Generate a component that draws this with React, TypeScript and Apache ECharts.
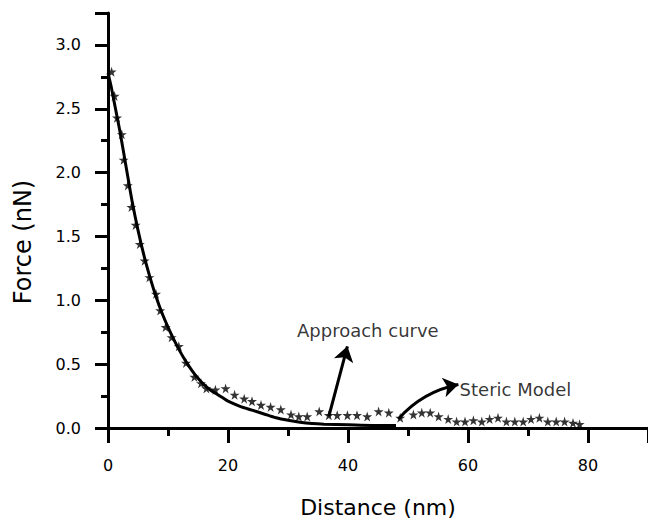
import React, { useEffect, useRef } from "react";
import * as echarts from "echarts";

// Approach curve (stars): distance (nm) and force (nN)
const approachX = [0.6, 1.1, 1.5, 2.3, 2.6, 3.3, 3.9, 4.6, 5.3, 6.1, 6.9, 8.0, 8.7, 9.6, 10.6, 11.8, 13.0, 14.4, 15.5, 16.4, 17.9, 19.6, 21.1, 22.7, 24.0, 25.5, 27.1, 28.8, 30.5, 31.8, 33.2, 35.2, 36.8, 38.2, 39.9, 41.5, 43.2, 45.1, 46.8, 48.7, 50.9, 52.3, 53.7, 55.1, 56.7, 58.1, 59.5, 60.9, 62.3, 63.6, 65.0, 66.4, 67.8, 69.2, 70.5, 71.9, 73.3, 74.7, 76.1, 77.5, 78.6];
const approachY = [2.79, 2.6, 2.43, 2.3, 2.1, 1.9, 1.73, 1.59, 1.44, 1.31, 1.18, 1.05, 0.92, 0.79, 0.71, 0.64, 0.51, 0.4, 0.35, 0.31, 0.3, 0.31, 0.26, 0.23, 0.21, 0.18, 0.165, 0.145, 0.105, 0.09, 0.09, 0.13, 0.1, 0.1, 0.1, 0.1, 0.09, 0.13, 0.12, 0.08, 0.105, 0.12, 0.12, 0.09, 0.07, 0.05, 0.05, 0.06, 0.05, 0.07, 0.08, 0.05, 0.05, 0.05, 0.07, 0.08, 0.05, 0.05, 0.05, 0.04, 0.03];

// Steric model (solid line)
const modelX = [0, 0.5, 1, 1.5, 2, 3, 4, 5, 6, 7, 8, 9, 10, 11, 12, 13, 14, 15, 16, 17, 18, 19, 20, 22, 24, 26, 28, 30, 32, 34, 36, 40, 44, 48];
const modelY = [2.78, 2.68, 2.56, 2.44, 2.32, 2.05, 1.78, 1.55, 1.35, 1.18, 1.03, 0.9, 0.79, 0.69, 0.6, 0.52, 0.45, 0.39, 0.34, 0.3, 0.27, 0.24, 0.21, 0.17, 0.14, 0.11, 0.08, 0.06, 0.045, 0.035, 0.03, 0.025, 0.02, 0.02];

// Annotations: label anchors and arrows (data coordinates)
const noteLabels = ["Approach curve", "Steric Model"];
const noteAnchors = [[31.5, 0.76], [58.6, 0.305]];
const arrowStarts = [[36.8, 0.09], [48.4, 0.07]];
const arrowEnds = [[39.9, 0.64], [58.4, 0.34]];
const arrowCurve = [0, 0.17];

const xTitle = "Distance (nm)";
const yTitle = "Force (nN)";

const STAR = "path://M50,0 L61,35 L98,35 L68,57 L79,91 L50,70 L21,91 L32,57 L2,35 L39,35 Z";
const FONT = "DejaVu Sans";

export default function App() {
  const ref = useRef<HTMLDivElement>(null);
  useEffect(() => {
    if (!ref.current) return;
    const chart = echarts.init(ref.current, null, { renderer: "svg" });
    const option: any = {
      animation: false,
      backgroundColor: "#fff",
      grid: { left: 108, top: 13, bottom: 91, right: -3 },
      xAxis: {
        type: "value",
        min: 0,
        max: 90,
        interval: 20,
        name: xTitle,
        nameLocation: "middle",
        nameGap: 68,
        nameTextStyle: { fontFamily: FONT, fontSize: 22, color: "#000" },
        axisLine: { show: true, lineStyle: { color: "#000", width: 3 } },
        axisTick: { show: true, length: 15, lineStyle: { color: "#000", width: 3 } },
        minorTick: { show: true, splitNumber: 2, length: 8, lineStyle: { color: "#000", width: 3 } },
        splitLine: { show: false },
        axisLabel: { fontFamily: FONT, fontSize: 16, color: "#000", margin: 29, showMaxLabel: false },
      },
      yAxis: {
        type: "value",
        min: 0,
        max: 3.25,
        interval: 0.5,
        axisLine: { show: true, lineStyle: { color: "#000", width: 3 } },
        axisTick: { show: true, length: 13, lineStyle: { color: "#000", width: 3 } },
        minorTick: { show: true, splitNumber: 2, length: 7, lineStyle: { color: "#000", width: 3 } },
        splitLine: { show: false },
        axisLabel: {
          fontFamily: FONT, fontSize: 16, color: "#000", margin: 27, showMaxLabel: false,
          formatter: (v: number) => v.toFixed(1),
        },
      },
      graphic: [
        {
          type: "text",
          x: 23,
          y: 242,
          rotation: Math.PI / 2,
          style: { text: yTitle, fontFamily: FONT, fontSize: 24, fill: "#000", align: "center", verticalAlign: "middle" },
        },
      ],
      series: [
        {
          type: "line",
          data: modelX.map((x, i) => [x, modelY[i]]),
          showSymbol: false,
          smooth: 0.3,
          lineStyle: { color: "#000", width: 3 },
          z: 3,
        },
        {
          type: "scatter",
          data: approachX.map((x, i) => [x, approachY[i]]),
          symbol: STAR,
          symbolSize: 10,
          itemStyle: { color: "#000" },
          z: 4,
        },
        {
          type: "lines",
          coordinateSystem: "cartesian2d",
          symbol: ["none", "arrow"],
          symbolSize: [6, 15],
          data: arrowStarts.map((s, i) => ({
            coords: [s, arrowEnds[i]],
            lineStyle: { curveness: arrowCurve[i] },
          })),
          lineStyle: { color: "#000", width: 3, opacity: 1 },
          z: 5,
        },
        {
          type: "scatter",
          data: noteAnchors.map((p, i) => ({ value: p, name: noteLabels[i] })),
          symbolSize: 0,
          label: {
            show: true,
            position: "right",
            distance: 0,
            formatter: (p: any) => p.name,
            fontFamily: FONT,
            fontSize: 18,
            color: "#000",
          },
          z: 6,
        },
      ],
    };
    chart.setOption(option);
    return () => chart.dispose();
  }, []);
  return (
    <div
      ref={ref}
      style={{ position: "fixed", left: 0, top: 0, width: 648, height: 523, background: "#fff" }}
    />
  );
}
